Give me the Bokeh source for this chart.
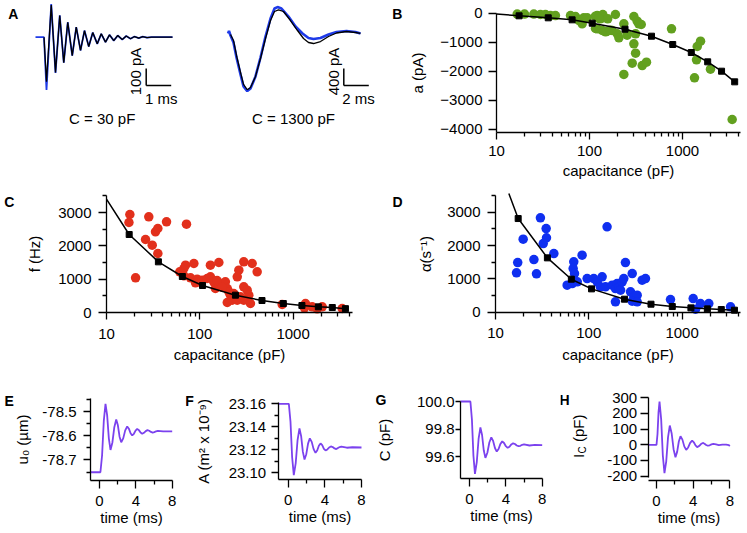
import math
from bokeh.plotting import figure
from bokeh.layouts import row, column
from bokeh.models import Range1d, FixedTicker, Label, PrintfTickFormatter, BasicTickFormatter
from bokeh.embed import file_html
from bokeh.resources import INLINE

FONT = "Liberation Sans"
FS = "15px"
GREEN = "#62a01f"
RED = "#e2301c"
BLUE = "#0f2ff0"
TRACE_BLUE = "#1e3ae8"
PURPLE = "#7b42ee"

# ---------------- Panel A : example traces ----------------
a30_data_t = [-0.34, 0, 0.1, 0.29, 0.46, 0.63, 0.79, 0.95, 1.13, 1.29, 1.46, 1.62, 1.79, 1.95, 2.13,
              2.29, 2.46, 2.62, 2.79, 2.95, 3.13, 3.29, 3.46, 3.62, 3.79, 3.95, 4.12, 4.3, 5.14]
a30_data_i = [0, 0, -310, 195, -210, 128, -150, 88, -108, 59, -78, 39, -55, 27, -39,
              20, -29, 14, -20, 10, -14, 7, -9, 4, -5, 3, -2, 0, 0]
a30_fit_t = [0, 0.1, 0.29, 0.46, 0.63, 0.79, 0.95, 1.13, 1.29, 1.46, 1.62, 1.79, 1.95, 2.13,
             2.29, 2.46, 2.62, 2.79, 2.95, 3.13, 3.29, 3.46, 3.62, 3.79, 3.95, 4.12, 4.3, 5.14]
a30_fit_i = [0, -262, 189, -208, 128, -150, 88, -108, 59, -78, 39, -55, 27, -39,
             20, -29, 14, -20, 10, -14, 7, -9, 4, -5, 3, -2, 0, 0]

a1300_data_t = [-0.2, -0.12, 0, 0.24, 0.48, 0.8, 1.04, 1.34, 1.6, 2.0, 2.4, 2.8, 3.2, 3.52, 3.76,
                4.08, 4.64, 5.2, 5.76, 6.24, 6.64, 7.2, 7.84, 8.48, 9.28, 10.0, 10.4]
a1300_data_i = [23, 82, -24, -188, -541, -940, -1222, -1332, -1269, -987, -541, -47, 376, 611, 646,
                611, 423, 188, 24, -82, -106, -82, 0, 59, 82, 59, 24]
a1300_fit_t = [0, 0.24, 0.48, 0.8, 1.04, 1.34, 1.6, 2.0, 2.4, 2.8, 3.2, 3.52, 3.84, 4.24, 4.8,
               5.36, 5.84, 6.24, 6.64, 7.2, 7.84, 8.48, 9.28, 10.0, 10.4]
a1300_fit_i = [0, -141, -494, -893, -1175, -1300, -1246, -987, -564, -94, 329, 541, 580, 541, 329,
               94, -94, -188, -212, -165, -47, 35, 71, 47, 24]

scale_pA_30, scale_ms_30 = 100, 1
scale_pA_1300, scale_ms_1300 = 400, 2

# ---------------- Model (black squares + line) ----------------
cap_model = [17.5, 36, 65, 107, 241, 464, 785, 1243, 1865, 2630, 3640]
a_model = [-90, -159, -228, -344, -550, -791, -1077, -1352, -1673, -1995, -2361]
f_model = [2340, 1520, 1080, 810, 520, 360, 270, 210, 170, 150, 115]
alpha_model = [2810, 1630, 990, 700, 390, 240, 170, 130, 100, 80, 60]
a_line_start = (10, -30)
f_line_start = (10, 3400)
alpha_line_start = (13.9, 3560)

# ---------------- Panel B : amplitude ----------------
cap_b = [16.7, 20, 25.2, 29.7, 33.6, 38.1, 43, 62.5, 70.7, 76.7, 86.8, 83.4, 94.4, 121, 131,
         139, 157, 190, 121, 137, 155, 175, 199, 207, 234, 254, 300, 313, 326, 339,
         360, 300, 313, 288, 369, 410, 234, 762, 1563, 1440, 1415, 2000, 1346, 3420,
         116, 149, 168, 254, 116, 126]
a_b = [-30, -30, -30, -45, -45, -80, -80, -80, -113, -250, -160, -366, -160, -80, -194,
       -45, -194, -45, -538, -595, -618, -595, -710, -848, -366, -710, -113, -710, -275, -366,
       -389, -1053, -1375, -1720, -1800, -1685, -2108, -538, -963, -1145, -1604, -1925, -2222, -3657,
       -526, -640, -584, -757, -103, -182]

# ---------------- Panel C : frequency ----------------
cap_c = [17.8, 17.4, 28.4, 44, 72, 33.5, 35.5, 26.2, 30.9, 35.5, 20.5, 61, 67.5, 70.3, 86.4,
         130, 160, 67.5, 79.5, 93.7, 90, 106, 120, 130, 141, 147, 160, 174, 188, 197,
         205, 213, 222, 197, 231, 252, 262, 296, 364, 412, 296, 322, 335, 296, 349,
         252, 273, 764, 1358, 1602, 1324, 2051, 3357, 153, 174, 1811]
f_c = [2940, 2700, 2870, 2720, 2650, 2420, 2520, 2190, 2020, 1770, 1040, 1220, 1320, 1420, 1470,
       1420, 1500, 1100, 1040, 1000, 890, 970, 1020, 1070, 920, 720, 820, 870, 920, 720,
       620, 520, 370, 300, 570, 1070, 1270, 1520, 1470, 1220, 770, 670, 520, 370, 270,
       370, 470, 240, 270, 170, 140, 170, 120, 960, 760, 110]

# ---------------- Panel D : damping ----------------
cap_d = [30.3, 34.9, 35.2, 32.5, 19.8, 42.2, 25.8, 17.3, 16.8, 27.5, 69, 84.8, 68, 70.3, 58.6,
         66.4, 75.2, 96, 113, 123, 139, 133, 151, 157, 178, 193, 201, 210, 219, 228,
         237, 247, 292, 373, 405, 193, 280, 304, 330, 292, 330, 751, 1315, 1574, 1932, 1393, 3304]
alpha_d = [2830, 2510, 2230, 2060, 2190, 1760, 1580, 1490, 1180, 1150, 1510, 1710, 1310, 1160, 810,
           860, 910, 1010, 1010, 910, 1060, 760, 760, 2560, 810, 710, 860, 760, 660, 910,
           1010, 1490, 1160, 960, 1010, 310, 610, 460, 510, 330, 310, 380, 410, 260, 260, 90, 160]

# ---------------- Panels E-H : model time courses ----------------
e_t = [-1, 0.1, 0.287, 0.473, 0.66, 0.843, 1.027, 1.21, 1.42, 1.63, 1.84, 2.023, 2.207, 2.39, 2.61,
       2.83, 3.05, 3.233, 3.417, 3.6, 3.783, 3.967, 4.15, 4.333, 4.517, 4.70, 4.893, 5.087, 5.28, 5.47,
       5.66, 5.85, 6.04, 6.23, 6.42, 7.0, 8.0]
e_u = [-78.751, -78.751, -78.680, -78.539, -78.468, -78.516, -78.611, -78.659, -78.628, -78.565,
       -78.533, -78.557, -78.604, -78.627, -78.611, -78.578, -78.562, -78.571, -78.590, -78.599,
       -78.592, -78.579, -78.572, -78.577, -78.587, -78.592, -78.588, -78.581, -78.577, -78.5795,
       -78.5845, -78.587, -78.5852, -78.5818, -78.580, -78.5825, -78.582]

f_t = [-1.09, 0.07, 0.25, 0.43, 0.61, 0.817, 1.023, 1.23, 1.413, 1.597, 1.78, 1.973, 2.167, 2.36, 2.567,
       2.773, 2.98, 3.163, 3.347, 3.53, 3.713, 3.897, 4.08, 4.273, 4.467, 4.66, 4.857, 5.053, 5.25, 5.43,
       5.62, 5.8, 6.4, 7.0, 8.0]
f_area = [23.160, 23.160, 23.1445, 23.1135, 23.098, 23.1082, 23.1285, 23.1386, 23.1319, 23.1184,
          23.1116, 23.1162, 23.1254, 23.130, 23.1269, 23.1206, 23.1174, 23.1194, 23.1235, 23.1255,
          23.1240, 23.1209, 23.1194, 23.1203, 23.1220, 23.1229, 23.1224, 23.1212, 23.1206, 23.1216,
          23.1224, 23.1228, 23.1218, 23.1222, 23.1220]

g_t = [-1, 0.1, 0.267, 0.433, 0.6, 0.8, 1.0, 1.2, 1.383, 1.567, 1.75, 1.967, 2.183, 2.4, 2.6,
       2.8, 3.0, 3.2, 3.4, 3.6, 3.8, 4.0, 4.2, 4.4, 4.6, 4.8, 5.0, 5.2, 5.4, 5.6,
       5.8, 6.0, 6.6, 7.2, 8.0]
g_c = [100.0, 100.0, 99.8685, 99.6055, 99.474, 99.5585, 99.7275, 99.812, 99.7565, 99.6455,
       99.59, 99.627, 99.702, 99.739, 99.713, 99.662, 99.636, 99.6545, 99.6915, 99.71,
       99.698, 99.675, 99.663, 99.671, 99.688, 99.696, 99.691, 99.680, 99.675, 99.678,
       99.685, 99.688, 99.680, 99.684, 99.682]

h_t = [-0.9, 0.0, 0.11, 0.22, 0.33, 0.51, 0.69, 0.87, 1.063, 1.257, 1.45, 1.657, 1.863, 2.07, 2.253,
       2.437, 2.62, 2.827, 3.033, 3.24, 3.457, 3.673, 3.89, 4.073, 4.257, 4.44, 4.647, 4.853, 5.06, 5.24,
       5.42, 5.6, 5.8, 6.0, 6.2, 6.5, 6.8, 7.2, 7.6, 7.9, 8.0]
h_i = [0, 0, 69, 207, 276, 162, -67, -181, -105, 47, 123, 72, -28, -79, -45,
       21, 55, 33, -10, -32, -17, 12, 27, 16, -4, -15, -8, 5, 12, 7,
       -1, -6, -3, 3, 6, 2, -2, 1, 1, -2, -8]

cap_ticks = [10, 100, 1000]
cap_minor = [20, 30, 40, 50, 60, 70, 80, 90, 200, 300, 400, 500, 600, 700, 800, 900, 2000, 3000, 4000]
time_ticks = [0, 4, 8]
time_minor = [2, 6]


def make_panel(px, py, w, h, xmap, ymap, x_log=False, axes=True):
    """Figure whose frame covers the whole canvas; xmap/ymap = (pixel, value, pixels per unit)."""
    xp, xv, xs = xmap
    x0 = xv + (px - xp) / xs
    x1 = xv + (px + w - xp) / xs
    if x_log:
        x0, x1 = 10 ** x0, 10 ** x1
    yp, yv, ys = ymap
    y_top = yv + (yp - py) / ys
    y_bot = yv - (py + h - yp) / ys
    kw = dict(width=w, height=h, output_backend="svg", toolbar_location=None,
              x_range=Range1d(x0, x1), y_range=Range1d(y_bot, y_top), min_border=0)
    if x_log:
        kw["x_axis_type"] = "log"
    if not axes:
        kw["x_axis_location"] = None
        kw["y_axis_location"] = None
    p = figure(**kw)
    p.outline_line_color = None
    p.background_fill_color = "white"
    p.border_fill_color = "white"
    for g in p.grid:
        g.visible = False
    return p, (px, py, w, h, (x0, x1), (y_bot, y_top), x_log)


def to_data(geom, sx, sy):
    fl, ft, fw, fh, xr, yr, x_log = geom
    fx = (sx - fl) / fw
    if x_log:
        l0, l1 = math.log10(xr[0]), math.log10(xr[1])
        x = 10 ** (l0 + fx * (l1 - l0))
    else:
        x = xr[0] + fx * (xr[1] - xr[0])
    fy = (sy - ft) / fh
    y = yr[1] - fy * (yr[1] - yr[0])
    return x, y


def add_text(p, geom, sx, sy, text, size=FS, bold=False, angle=0.0, align="center", baseline="middle"):
    x, y = to_data(geom, sx, sy)
    p.add_layout(Label(x=x, y=y, text=text, text_font=FONT, text_font_size=size,
                       text_font_style="bold" if bold else "normal", angle=angle,
                       text_align=align, text_baseline=baseline, text_color="black"))


def base_style(ax, tick_out, s1, s2, label):
    ax.axis_label = label
    ax.axis_line_color = "black"
    ax.axis_line_width = 1.3
    ax.major_tick_line_color = "black"
    ax.major_tick_line_width = 1.3
    ax.minor_tick_line_color = "black"
    ax.minor_tick_line_width = 1.3
    ax.major_tick_in = 0
    ax.major_tick_out = tick_out
    ax.minor_tick_in = 0
    ax.minor_tick_out = 4
    ax.major_label_text_font = FONT
    ax.major_label_text_font_size = FS
    ax.major_label_text_color = "black"
    ax.major_label_standoff = s1
    ax.axis_label_text_font = FONT
    ax.axis_label_text_font_size = FS
    ax.axis_label_text_font_style = "normal"
    ax.axis_label_text_color = "black"
    ax.axis_label_standoff = s2


def set_axes(p, geom, xax, yax):
    """xax/yax: dict(pos=pixel line position, ext=(pixel start, pixel end), ticks, minor, label, fmt, ...)"""
    _, yline = to_data(geom, xax["ext"][0], xax["pos"])
    xa, _ = to_data(geom, xax["ext"][0], xax["pos"])
    xb, _ = to_data(geom, xax["ext"][1], xax["pos"])
    ax = p.xaxis[0]
    ax.fixed_location = yline
    ax.bounds = (xa, xb)
    ax.ticker = FixedTicker(ticks=xax["ticks"], minor_ticks=xax.get("minor", []))
    ax.formatter = xax.get("fmt", BasicTickFormatter())
    base_style(ax, xax.get("tick_out", 7), xax.get("s1", 3), xax.get("s2", 3), xax.get("label", ""))
    xline, ya = to_data(geom, yax["pos"], yax["ext"][1])
    _, yb = to_data(geom, yax["pos"], yax["ext"][0])
    ay = p.yaxis[0]
    ay.fixed_location = xline
    ay.bounds = (ya, yb)
    ay.ticker = FixedTicker(ticks=yax["ticks"], minor_ticks=yax.get("minor", []))
    ay.formatter = yax.get("fmt", BasicTickFormatter())
    base_style(ay, yax.get("tick_out", 7), yax.get("s1", 6), yax.get("s2", 10), yax.get("label", ""))


DOT = 9.5

# ---------- Panel A (two figures, no axes) ----------
pA1, gA1 = make_panel(0, 0, 185, 184, (43.5, 0, 25.0), (36.7, 0, 17.0 / scale_pA_30), axes=False)
pA1.line(a30_data_t, a30_data_i, line_color=TRACE_BLUE, line_width=1.8)
pA1.line(a30_fit_t, a30_fit_i, line_color="black", line_width=1.3)
x0, y0 = to_data(gA1, 145.7, 85)
pA1.line([x0, x0], [y0, y0 + scale_pA_30], line_color="black", line_width=1.5)
pA1.line([x0, x0 + scale_ms_30], [y0, y0], line_color="black", line_width=1.5)
add_text(pA1, gA1, 135, 71, "%d pA" % scale_pA_30, angle=math.pi / 2)
add_text(pA1, gA1, 160.7, 97.5, "%d ms" % scale_ms_30)
add_text(pA1, gA1, 101.7, 118, "C = 30 pF")
add_text(pA1, gA1, 12.8, 13, "A", size="14px", bold=True)

pA2, gA2 = make_panel(185, 0, 195, 184, (230, 0, 12.5), (34, 0, 17.0 / scale_pA_1300), axes=False)
pA2.line(a1300_data_t, a1300_data_i, line_color=TRACE_BLUE, line_width=2.6)
pA2.line(a1300_fit_t, a1300_fit_i, line_color="black", line_width=1.3)
x0, y0 = to_data(gA2, 343.3, 85)
pA2.line([x0, x0], [y0, y0 + scale_pA_1300], line_color="black", line_width=1.5)
pA2.line([x0, x0 + scale_ms_1300], [y0, y0], line_color="black", line_width=1.5)
add_text(pA2, gA2, 332.6, 71, "%d pA" % scale_pA_1300, angle=math.pi / 2)
add_text(pA2, gA2, 358, 97.5, "%d ms" % scale_ms_1300)
add_text(pA2, gA2, 293, 118, "C = 1300 pF")

# ---------- Panel B ----------
pB, gB = make_panel(380, 0, 367, 184, (496, 1, 93.0), (12.7, 0, 1 / 34.4), x_log=True)
pB.scatter(cap_b, a_b, size=DOT, fill_color=GREEN, line_color=None)
pB.line([a_line_start[0]] + cap_model, [a_line_start[1]] + a_model, line_color="black", line_width=1.5)
pB.scatter(cap_model, a_model, marker="square", size=6, color="black")
set_axes(pB, gB,
         dict(pos=132, ext=(496, 740), ticks=cap_ticks, minor=cap_minor, label="capacitance (pF)",
              s1=6, s2=3),
         dict(pos=496, ext=(12.7, 132), ticks=[-4000, -3000, -2000, -1000, 0], label="a (pA)",
              tick_out=8, s1=6, s2=11))
add_text(pB, gB, 396.7, 13.7, "B", size="14px", bold=True)

# ---------- Panel C ----------
pC, gC = make_panel(0, 184, 370, 180, (106, 1, 93.3), (312, 0, 1 / 30.0), x_log=True)
pC.scatter(cap_c, f_c, size=DOT, fill_color=RED, line_color=None)
pC.line([f_line_start[0]] + cap_model, [f_line_start[1]] + f_model, line_color="black", line_width=1.5)
pC.scatter(cap_model, f_model, marker="square", size=6, color="black")
set_axes(pC, gC,
         dict(pos=312, ext=(106, 351.7), ticks=cap_ticks, minor=cap_minor, label="capacitance (pF)",
              s1=9, s2=4),
         dict(pos=106, ext=(195, 312), ticks=[0, 1000, 2000, 3000], minor=[500, 1500, 2500, 3500],
              label="f (Hz)", tick_out=8, s1=7, s2=12))
add_text(pC, gC, 8.7, 201.7, "C", size="14px", bold=True)

# ---------- Panel D ----------
pD, gD = make_panel(370, 184, 377, 180, (495, 1, 93.3), (311.7, 0, 1 / 30.0), x_log=True)
pD.scatter(cap_d, alpha_d, size=DOT, fill_color=BLUE, line_color=None)
pD.line([alpha_line_start[0]] + cap_model, [alpha_line_start[1]] + alpha_model, line_color="black", line_width=1.5)
pD.scatter(cap_model, alpha_model, marker="square", size=6, color="black")
set_axes(pD, gD,
         dict(pos=311.7, ext=(495, 740), ticks=cap_ticks, minor=cap_minor, label="capacitance (pF)",
              s1=9, s2=4),
         dict(pos=495, ext=(195, 311.7), ticks=[0, 1000, 2000, 3000], minor=[500, 1500, 2500, 3500],
              label="α(s⁻¹)", tick_out=8, s1=7, s2=10))
add_text(pD, gD, 397, 201.3, "D", size="14px", bold=True)

# ---------- Panel E ----------
pE, gE = make_panel(0, 364, 185, 169, (99, 0, 9.0875), (411, -78.5, 242.0))
pE.line(e_t, e_u, line_color=PURPLE, line_width=1.8)
set_axes(pE, gE,
         dict(pos=480, ext=(90, 171.7), ticks=time_ticks, minor=time_minor, label="time (ms)",
              tick_out=8, s1=7, s2=0),
         dict(pos=90, ext=(398.3, 480), ticks=[-78.7, -78.6, -78.5], minor=[-78.75, -78.65, -78.55, -78.45],
              label="u₀ (µm)", fmt=PrintfTickFormatter(format="%.1f"), tick_out=7, s1=7, s2=8))
add_text(pE, gE, 8.7, 400, "E", size="14px", bold=True)

# ---------- Panel F ----------
pF, gF = make_panel(185, 364, 190, 169, (287.7, 0, 9.1625), (403.3, 23.16, 1150.0))
pF.line(f_t, f_area, line_color=PURPLE, line_width=1.8)
set_axes(pF, gF,
         dict(pos=479.3, ext=(277.7, 361), ticks=time_ticks, minor=time_minor, label="time (ms)",
              tick_out=8, s1=7, s2=0),
         dict(pos=277.7, ext=(401.7, 479.3), ticks=[23.10, 23.12, 23.14, 23.16], minor=[23.11, 23.13, 23.15],
              label="A (m² x 10⁻⁹)", fmt=PrintfTickFormatter(format="%.2f"), tick_out=7, s1=5, s2=14))
add_text(pF, gF, 189, 400, "F", size="14px", bold=True)

# ---------- Panel G ----------
pG, gG = make_panel(375, 364, 185, 169, (469, 0, 9.0875), (401, 100.0, 137.5))
pG.line(g_t, g_c, line_color=PURPLE, line_width=1.8)
set_axes(pG, gG,
         dict(pos=478.3, ext=(460, 541.7), ticks=time_ticks, minor=time_minor, label="time (ms)",
              tick_out=8, s1=7, s2=0),
         dict(pos=460, ext=(401, 478.3), ticks=[99.6, 99.8, 100.0], label="C (pF)",
              fmt=PrintfTickFormatter(format="%.1f"), tick_out=5, s1=1, s2=21))
add_text(pG, gG, 380.5, 399, "G", size="14px", bold=True)

# ---------- Panel H ----------
pH, gH = make_panel(560, 364, 187, 169, (656, 0, 9.1625), (444.3, 0, 0.1568))
pH.line(h_t, h_i, line_color=PURPLE, line_width=1.8)
set_axes(pH, gH,
         dict(pos=480, ext=(647.7, 729.3), ticks=time_ticks, minor=time_minor, label="time (ms)",
              tick_out=8, s1=7, s2=0),
         dict(pos=647.7, ext=(397.3, 477.3), ticks=[-200, -100, 0, 100, 200, 300], label="",
              fmt=PrintfTickFormatter(format="%d"), tick_out=8, s1=3, s2=0))
add_text(pH, gH, 577.5, 457.5, "I", angle=math.pi / 2, align="left")
add_text(pH, gH, 581.5, 453.0, "C", size="10px", angle=math.pi / 2, align="left")
add_text(pH, gH, 577.5, 441.5, "(pF)", angle=math.pi / 2, align="left")
add_text(pH, gH, 564, 399, "H", size="14px", bold=True)

layout = column(row(pA1, pA2, pB), row(pC, pD), row(pE, pF, pG, pH))

with open("out.html", "w") as fh:
    fh.write(file_html(layout, INLINE))
